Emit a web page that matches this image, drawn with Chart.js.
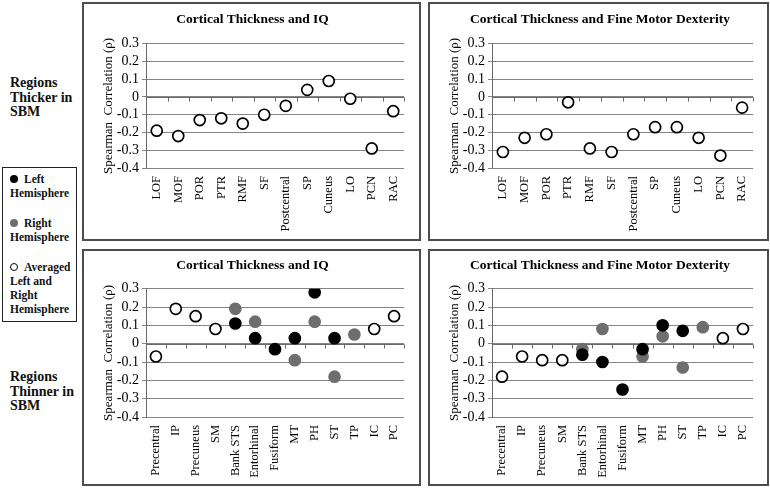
<!DOCTYPE html>
<html>
<head>
<meta charset="utf-8">
<script src="https://cdn.jsdelivr.net/npm/chart.js@4.4.0/dist/chart.umd.min.js"></script>
<style>
  html, body { margin: 0; padding: 0; background: #fff; }
  body { position: relative; width: 770px; height: 489px; overflow: hidden; font-family: 'Liberation Serif', serif; }
  .panel { position: absolute; box-sizing: border-box; border: 2px solid #4d4d4d; background: #fff; }
  .panel canvas { display: block; }
  .side { position: absolute; left: 10px; font-weight: bold; font-size: 14px; line-height: 14.5px; color: #111; }
  .legend { position: absolute; left: 2px; top: 167px; width: 75px; height: 155px; box-sizing: border-box;
            border: 1px solid #222; padding: 4px 0 0 7px; font-weight: bold; font-size: 11.5px; line-height: 14px; color: #111; }
  .legend .gap { height: 16px; }
  .dot { display: inline-block; width: 8px; height: 8px; border-radius: 50%; margin-right: 6px; vertical-align: 0px; box-sizing: border-box; }
</style>
</head>
<body>

<div class="side" style="top:76px">Regions<br>Thicker in<br>SBM</div>
<div class="side" style="top:370px">Regions<br>Thinner in<br>SBM</div>

<div class="legend">
  <div><span class="dot" style="background:#000"></span>Left</div>
  <div>Hemisphere</div>
  <div class="gap"></div>
  <div><span class="dot" style="background:#6e6e6e"></span>Right</div>
  <div>Hemisphere</div>
  <div class="gap"></div>
  <div><span class="dot" style="border:1px solid #000;background:#fff"></span>Averaged</div>
  <div>Left and</div>
  <div>Right</div>
  <div>Hemisphere</div>
</div>

<div class="panel" style="left:82px;top:2px;width:339px;height:239px"><canvas id="tl"></canvas></div>
<div class="panel" style="left:428px;top:2px;width:341px;height:239px"><canvas id="tr"></canvas></div>
<div class="panel" style="left:82px;top:249px;width:339px;height:237px"><canvas id="bl"></canvas></div>
<div class="panel" style="left:428px;top:249px;width:341px;height:237px"><canvas id="br"></canvas></div>

<script>
// Regions thicker in SBM (averaged left and right hemisphere)
const thickerRegions = ['LOF', 'MOF', 'POR', 'PTR', 'RMF', 'SF', 'Postcentral', 'SP', 'Cuneus', 'LO', 'PCN', 'RAC'];
const thickerIQ  = [-0.19, -0.22, -0.13, -0.12, -0.15, -0.10, -0.05, 0.04, 0.09, -0.01, -0.29, -0.08];
const thickerFMD = [-0.31, -0.23, -0.21, -0.03, -0.29, -0.31, -0.21, -0.17, -0.17, -0.23, -0.33, -0.06];

// Regions thinner in SBM
const thinnerRegions = ['Precentral', 'IP', 'Precuneus', 'SM', 'Bank STS', 'Entorhinal', 'Fusiform', 'MT', 'PH', 'ST', 'TP', 'IC', 'PC'];
const thinnerIQAvg    = [-0.07, 0.19, 0.15, 0.08, null, null, null, null, null, null, null, 0.08, 0.15];
const thinnerIQLeft   = [null, null, null, null, 0.11, 0.03, -0.03, 0.03, 0.28, 0.03, null, null, null];
const thinnerIQRight  = [null, null, null, null, 0.19, 0.12, null, -0.09, 0.12, -0.18, 0.05, null, null];
const thinnerFMDAvg   = [-0.18, -0.07, -0.09, -0.09, null, null, null, null, null, null, null, 0.03, 0.08];
const thinnerFMDLeft  = [null, null, null, null, -0.06, -0.10, -0.25, -0.03, 0.10, 0.07, null, null, null];
const thinnerFMDRight = [null, null, null, null, -0.03, 0.08, null, -0.07, 0.04, -0.13, 0.09, null, null];

const yTicks = [-0.4, -0.3, -0.2, -0.1, 0, 0.1, 0.2, 0.3];

const SERIF = "'Liberation Serif', 'Times New Roman', serif";
const GRID = '#858585';

// zero line with small tick marks between categories
const zeroLine = {
    id: 'zeroLine',
    beforeDatasetsDraw(chart) {
        const { ctx, scales: { x, y } } = chart;
        const y0 = Math.round(y.getPixelForValue(0)) + 0.5;
        ctx.save();
        ctx.strokeStyle = '#6a6a6a';
        ctx.lineWidth = 1;
        ctx.beginPath();
        ctx.moveTo(x.left, y0);
        ctx.lineTo(x.right, y0);
        for (let i = 0; i <= x.getLabels().length; i++) {
            const px = Math.round(x.getPixelForValue(i - 0.5)) + 0.5;
            ctx.moveTo(px, y0);
            ctx.lineTo(px, y0 + 4);
        }
        ctx.stroke();
        ctx.restore();
    }
};

function series(data, fill, border, order) {
    return {
        data: data,
        showLine: false,
        pointRadius: 5.5,
        pointHoverRadius: 5.5,
        pointBorderWidth: 1.7,
        pointBackgroundColor: fill,
        pointBorderColor: border,
        order: order
    };
}

function makeChart(id, title, labels, datasets, opts) {
    new Chart(document.getElementById(id), {
        type: 'line',
        data: { labels: labels, datasets: datasets },
        options: {
            responsive: true,
            maintainAspectRatio: false,
            animation: false,
            layout: { padding: { left: 17, right: opts.right, top: opts.top, bottom: 0 } },
            plugins: {
                legend: { display: false },
                tooltip: { enabled: false },
                title: {
                    display: true,
                    text: title,
                    color: '#000',
                    font: { family: SERIF, size: 13.5, weight: 'bold' },
                    padding: { top: 5, bottom: opts.titleGap }
                }
            },
            scales: {
                x: {
                    offset: true,
                    grid: { display: false, drawTicks: false },
                    border: { display: false },
                    ticks: {
                        color: '#000',
                        font: { family: SERIF, size: 12.5 },
                        minRotation: 90,
                        maxRotation: 90,
                        autoSkip: false,
                        padding: 8
                    },
                    afterFit(scale) { scale.height = opts.xh; }
                },
                y: {
                    min: -0.4,
                    max: 0.3,
                    afterBuildTicks(scale) { scale.ticks = yTicks.map(v => ({ value: v })); },
                    grid: { color: GRID, lineWidth: 1, tickLength: 4 },
                    border: { display: true, color: '#6a6a6a' },
                    ticks: {
                        color: '#000',
                        font: { family: SERIF, size: 14 },
                        padding: 3,
                        autoSkip: false,
                        callback: v => (Math.abs(v) < 1e-9 ? '0' : v.toFixed(1))
                    },
                    title: {
                        display: true,
                        text: 'Spearman  Correlation (ρ)',
                        color: '#000',
                        font: { family: SERIF, size: 13 },
                        padding: { top: 0, bottom: 2 }
                    },
                    afterFit(scale) { scale.width = 45; }
                }
            }
        },
        plugins: [zeroLine]
    });
}

makeChart('tl', 'Cortical Thickness and IQ', thickerRegions,
    [series(thickerIQ, '#fff', '#000', 2)],
    { right: 15, top: 2, titleGap: 16.5, xh: 71 });

makeChart('tr', 'Cortical Thickness and Fine Motor Dexterity', thickerRegions,
    [series(thickerFMD, '#fff', '#000', 2)],
    { right: 14, top: 2, titleGap: 16.5, xh: 71 });

makeChart('bl', 'Cortical Thickness and IQ', thinnerRegions,
    [series(thinnerIQLeft, '#000', '#000', 0),
     series(thinnerIQRight, '#6e6e6e', '#6e6e6e', 1),
     series(thinnerIQAvg, '#fff', '#000', 2)],
    { right: 15, top: 1, titleGap: 15.5, xh: 67 });

makeChart('br', 'Cortical Thickness and Fine Motor Dexterity', thinnerRegions,
    [series(thinnerFMDLeft, '#000', '#000', 0),
     series(thinnerFMDRight, '#6e6e6e', '#6e6e6e', 1),
     series(thinnerFMDAvg, '#fff', '#000', 2)],
    { right: 14, top: 1, titleGap: 15.5, xh: 67 });
</script>
</body>
</html>
